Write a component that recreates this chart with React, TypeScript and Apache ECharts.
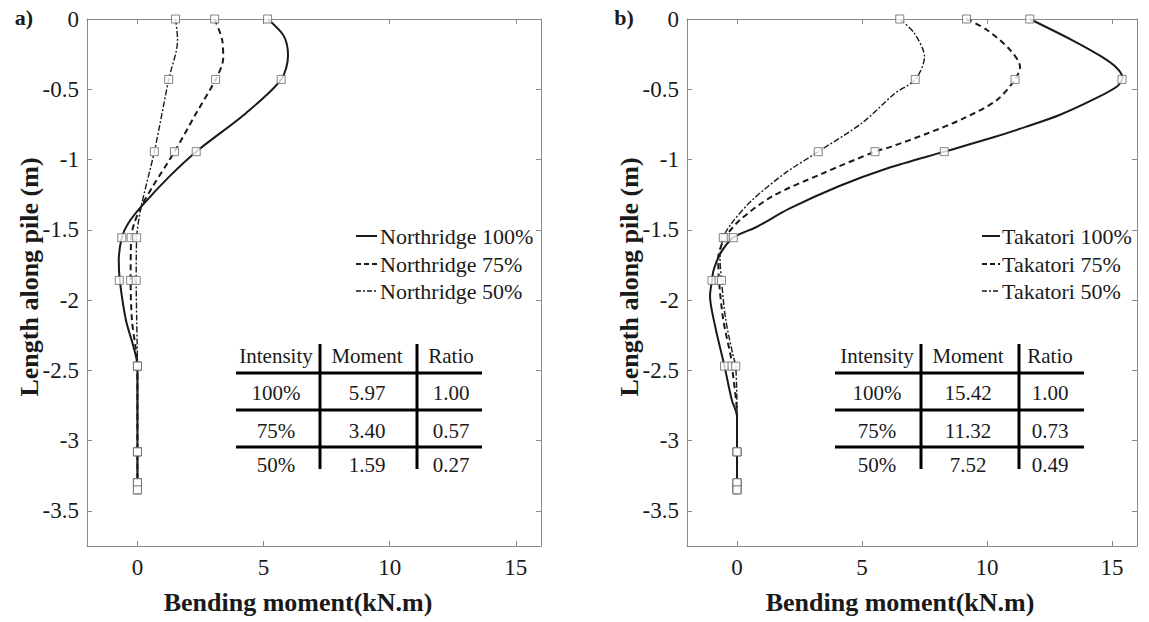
import React, { useEffect, useRef } from "react";
import * as echarts from "echarts";

// ---------- data ----------
const xTicks = [0, 5, 10, 15];
const yTicks = [0, -0.5, -1, -1.5, -2, -2.5, -3, -3.5];
const markerDepths = [0, -0.43, -0.944, -1.556, -1.86, -2.47, -3.08, -3.3, -3.35];

// Northridge (panel a)
const nr100Depth = [0, -0.12, -0.26, -0.43, -0.67, -0.944, -1.12, -1.335, -1.45, -1.556, -1.72, -1.86, -2.14, -2.33, -2.47, -3.08, -3.3, -3.35];
const nr100Moment = [5.16, 5.8, 5.97, 5.7, 4.3, 2.33, 1.27, 0.15, -0.35, -0.62, -0.74, -0.7, -0.46, -0.16, 0, 0, 0, 0];
const nr75Depth = [0, -0.15, -0.28, -0.43, -0.67, -0.944, -1.19, -1.335, -1.45, -1.556, -1.86, -2.14, -2.33, -2.47, -3.08, -3.3, -3.35];
const nr75Moment = [3.06, 3.36, 3.4, 3.1, 2.33, 1.47, 0.61, 0.15, -0.12, -0.25, -0.27, -0.22, -0.08, 0, 0, 0, 0];
const nr50Depth = [0, -0.15, -0.43, -0.944, -1.335, -1.556, -1.86, -2.14, -2.47, -3.08, -3.3, -3.35];
const nr50Moment = [1.51, 1.59, 1.24, 0.67, 0.15, -0.03, -0.05, -0.03, 0, 0, 0, 0];
const nr100Markers = [5.16, 5.7, 2.33, -0.62, -0.72, 0, 0, 0, 0];
const nr75Markers = [3.06, 3.1, 1.47, -0.25, -0.27, 0, 0, 0, 0];
const nr50Markers = [1.51, 1.24, 0.67, -0.03, -0.05, 0, 0, 0, 0];

// Takatori (panel b)
const tk100Depth = [0, -0.15, -0.27, -0.35, -0.42, -0.48, -0.576, -0.683, -0.766, -0.842, -0.944, -1.06, -1.19, -1.35, -1.48, -1.556, -1.67, -1.79, -1.86, -1.97, -2.19, -2.47, -2.71, -2.83, -3.08, -3.3, -3.35];
const tk100Moment = [11.71, 13.4, 14.6, 15.2, 15.42, 15.2, 14.22, 12.9, 11.58, 10.26, 8.29, 6.05, 4.07, 2.09, 0.78, -0.15, -0.67, -0.94, -1.0, -1.08, -0.87, -0.5, -0.21, 0, 0, 0, 0];
const tk75Depth = [0, -0.078, -0.22, -0.34, -0.43, -0.576, -0.706, -0.813, -0.908, -0.944, -1.1, -1.26, -1.43, -1.556, -1.7, -1.86, -2.14, -2.4, -2.47, -2.83, -3.08, -3.3, -3.35];
const tk75Moment = [9.18, 10.0, 10.92, 11.32, 11.12, 10.4, 9.08, 7.63, 6.18, 5.52, 3.41, 1.43, 0.12, -0.47, -0.75, -0.72, -0.55, -0.25, -0.2, 0, 0, 0, 0];
const tk50Depth = [0, -0.1, -0.27, -0.43, -0.53, -0.74, -0.944, -1.1, -1.29, -1.45, -1.556, -1.7, -1.86, -2.14, -2.4, -2.47, -2.83, -3.08, -3.3, -3.35];
const tk50Moment = [6.51, 7.09, 7.5, 7.13, 6.31, 5.0, 3.25, 1.9, 0.6, -0.2, -0.55, -0.68, -0.62, -0.45, -0.15, -0.05, 0, 0, 0, 0];
const tk100Markers = [11.71, 15.4, 8.29, -0.15, -1.0, -0.5, 0, 0, 0];
const tk75Markers = [9.18, 11.12, 5.52, -0.47, -0.72, -0.2, 0, 0, 0];
const tk50Markers = [6.51, 7.13, 3.25, -0.55, -0.62, -0.05, 0, 0, 0];

// tables
const tableHeader = ["Intensity", "Moment", "Ratio"];
const tableIntensity = ["100%", "75%", "50%"];
const nrTableMoment = [5.97, 3.4, 1.59];
const nrTableRatio = [1.0, 0.57, 0.27];
const tkTableMoment = [15.42, 11.32, 7.52];
const tkTableRatio = [1.0, 0.73, 0.49];

const nrLegend = ["Northridge 100%", "Northridge 75%", "Northridge 50%"];
const tkLegend = ["Takatori 100%", "Takatori 75%", "Takatori 50%"];

// ---------- styles ----------
const FONT = "Liberation Serif";
const AXIS_GRAY = "#8a8a8a";
const INK = "#1a1a1a";
const lineStyles = [
  { color: INK, width: 2, type: "solid" as any },
  { color: INK, width: 2, type: [6, 4] as any },
  { color: INK, width: 1.4, type: [6, 2, 2, 2] as any },
];
const legendDash: (number[] | null)[] = [null, [5, 3], [5, 2, 2, 2]];

const zip = (xs: number[], ys: number[]) => xs.map((x, i) => [x, ys[i]]);

function makeAxes(gridIndex: number) {
  const common = {
    gridIndex,
    type: "value" as const,
    splitLine: { show: false },
    axisLine: { show: true, onZero: false, lineStyle: { color: AXIS_GRAY, width: 1 } },
  };
  const xs = [
    {
      ...common,
      min: -2,
      max: 16,
      position: "bottom",
      axisTick: { show: true, inside: true, length: 5, customValues: xTicks, lineStyle: { color: AXIS_GRAY } },
      axisLabel: { show: true, customValues: xTicks, fontSize: 23, color: INK, fontFamily: FONT, margin: 10 },
    },
    {
      ...common,
      min: -2,
      max: 16,
      position: "top",
      axisTick: { show: true, inside: true, length: 5, customValues: xTicks, lineStyle: { color: AXIS_GRAY } },
      axisLabel: { show: false },
    },
  ];
  const ys = [
    {
      ...common,
      min: -3.75,
      max: 0,
      position: "left",
      axisTick: { show: true, inside: true, length: 5, customValues: yTicks, lineStyle: { color: AXIS_GRAY } },
      axisLabel: { show: true, customValues: yTicks, fontSize: 23, color: INK, fontFamily: FONT, margin: 8 },
    },
    {
      ...common,
      min: -3.75,
      max: 0,
      position: "right",
      axisTick: { show: true, inside: true, length: 5, customValues: yTicks, lineStyle: { color: AXIS_GRAY } },
      axisLabel: { show: false },
    },
  ];
  return { xs, ys };
}

function panelSeries(
  axisIdx: number,
  curves: { depth: number[]; moment: number[]; markers: number[]; name: string }[]
) {
  const out: any[] = [];
  curves.forEach((c, i) => {
    out.push({
      type: "line",
      name: c.name,
      xAxisIndex: axisIdx,
      yAxisIndex: axisIdx,
      data: zip(c.moment, c.depth),
      smooth: 0.3,
      symbol: "none",
      lineStyle: lineStyles[i],
      z: 3,
    });
  });
  curves.forEach((c) => {
    out.push({
      type: "scatter",
      name: c.name + " pts",
      xAxisIndex: axisIdx,
      yAxisIndex: axisIdx,
      data: zip(c.markers, markerDepths),
      symbol: "rect",
      symbolSize: 8,
      itemStyle: { color: "#ffffff", borderColor: "#666", borderWidth: 1 },
      z: 4,
    });
  });
  return out;
}

function legendGraphics(sampleX1: number, sampleX2: number, textX: number, names: string[]) {
  const rows = [236, 264, 291];
  const els: any[] = [];
  names.forEach((n, i) => {
    const ls = lineStyles[i];
    els.push({
      type: "line",
      shape: { x1: sampleX1, y1: rows[i], x2: sampleX2, y2: rows[i] },
      style: { stroke: ls.color, lineWidth: ls.width, lineDash: legendDash[i] },
    });
    els.push({
      type: "text",
      x: textX,
      y: rows[i],
      style: { text: n, fill: INK, fontSize: 22, fontFamily: FONT, textAlign: "left", textVerticalAlign: "middle" },
    });
  });
  return els;
}

function tableGraphics(x0: number, x1: number, vLines: number[], colCenters: number[], moments: number[], ratios: number[]) {
  const hLines = [373, 410, 447];
  const rowY = [356, 393, 431, 465];
  const els: any[] = [];
  hLines.forEach((y) =>
    els.push({ type: "line", shape: { x1: x0, y1: y, x2: x1, y2: y }, style: { stroke: "#000", lineWidth: 3 } })
  );
  vLines.forEach((x) =>
    els.push({ type: "line", shape: { x1: x, y1: 344, x2: x, y2: 469 }, style: { stroke: "#000", lineWidth: 3 } })
  );
  const rows = [tableHeader, ...tableIntensity.map((s, i) => [s, moments[i].toFixed(2), ratios[i].toFixed(2)])];
  rows.forEach((r, ri) =>
    r.forEach((t, ci) =>
      els.push({
        type: "text",
        x: colCenters[ci],
        y: rowY[ri],
        style: { text: t, fill: INK, fontSize: 21, fontFamily: FONT, textAlign: "center", textVerticalAlign: "middle" },
      })
    )
  );
  return els;
}

function textEl(text: string, x: number, y: number, size: number, bold: boolean, rotation = 0) {
  return {
    type: "text",
    x,
    y,
    rotation,
    style: {
      text,
      fill: INK,
      fontSize: size,
      fontWeight: bold ? "bold" : "normal",
      fontFamily: FONT,
      textAlign: "center",
      textVerticalAlign: "middle",
    },
  };
}

export default function App() {
  const ref = useRef<HTMLDivElement>(null);
  useEffect(() => {
    if (!ref.current) return;
    const chart = echarts.init(ref.current, undefined, { renderer: "svg" });
    const a = makeAxes(0);
    const b = makeAxes(1);
    const option: any = {
      animation: false,
      backgroundColor: "#ffffff",
      textStyle: { fontFamily: FONT },
      grid: [
        { left: 87, top: 19, width: 454, height: 527 },
        { left: 687, top: 19, width: 450, height: 527 },
      ],
      xAxis: [...a.xs, ...b.xs],
      yAxis: [...a.ys, ...b.ys],
      series: [
        ...panelSeries(0, [
          { depth: nr100Depth, moment: nr100Moment, markers: nr100Markers, name: nrLegend[0] },
          { depth: nr75Depth, moment: nr75Moment, markers: nr75Markers, name: nrLegend[1] },
          { depth: nr50Depth, moment: nr50Moment, markers: nr50Markers, name: nrLegend[2] },
        ]),
        ...panelSeries(2, [
          { depth: tk100Depth, moment: tk100Moment, markers: tk100Markers, name: tkLegend[0] },
          { depth: tk75Depth, moment: tk75Moment, markers: tk75Markers, name: tkLegend[1] },
          { depth: tk50Depth, moment: tk50Moment, markers: tk50Markers, name: tkLegend[2] },
        ]),
      ],
      graphic: [
        textEl("a)", 24, 17, 22, true),
        textEl("b)", 624, 17, 22, true),
        textEl("Length along pile (m)", 29, 277, 26, true, Math.PI / 2),
        textEl("Length along pile (m)", 629, 277, 26, true, Math.PI / 2),
        textEl("Bending moment(kN.m)", 298, 602, 26, true),
        textEl("Bending moment(kN.m)", 900, 602, 26, true),
        ...legendGraphics(356, 377, 380, nrLegend),
        ...legendGraphics(982, 1000, 1002, tkLegend),
        ...tableGraphics(236, 482, [320, 417], [276, 367, 451], nrTableMoment, nrTableRatio),
        ...tableGraphics(835, 1084, [921, 1019], [877, 968, 1050], tkTableMoment, tkTableRatio),
      ],
    };
    chart.setOption(option);
    return () => chart.dispose();
  }, []);
  return (
    <div
      ref={ref}
      style={{ position: "fixed", left: 0, top: 0, width: 1149, height: 622, background: "#fff" }}
    />
  );
}
